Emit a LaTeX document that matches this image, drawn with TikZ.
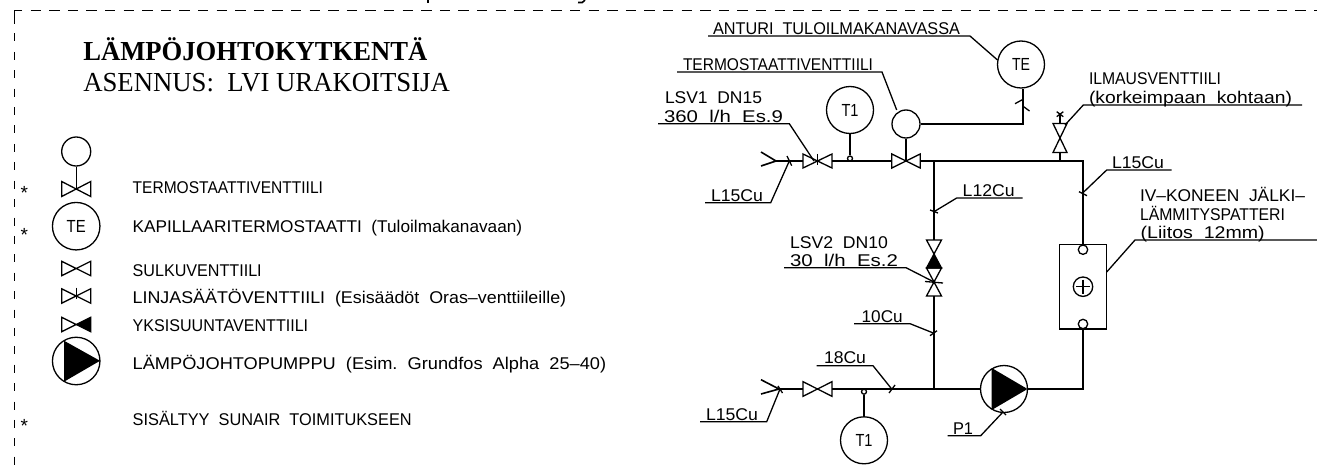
\documentclass[tikz,border=0pt]{standalone}
\usepackage{graphicx}
\usepackage{fontspec}
\setmainfont{Liberation Sans}
\newfontfamily\headfont{Liberation Serif}
\usetikzlibrary{shapes.geometric}
\newsavebox\cadbox
\newcommand\cadt[2]{\sbox\cadbox{#2}\pgfmathsetmacro\cadr{#1/\the\wd\cadbox}\scalebox{\cadr}[1]{\usebox\cadbox}}
\tikzset{
  lab/.style={anchor=base west,inner sep=0pt,outer sep=0pt,font=\fontsize{17}{17}\selectfont},
  lab2/.style={anchor=base west,inner sep=0pt,outer sep=0pt,font=\fontsize{17}{17}\selectfont},
  star/.style={anchor=base,inner sep=0pt,outer sep=0pt,font=\fontsize{19}{19}\selectfont},
  head/.style={anchor=base west,inner sep=0pt,outer sep=0pt,font=\fontsize{27.5}{27.5}\selectfont\headfont},
  pipe/.style={line width=1.6pt,line join=miter},
  thin line/.style={line width=1.3pt},
  lead/.style={line width=1.3pt},
  ring/.style={draw,circle,inner sep=0pt,line width=1.3pt,font=\fontsize{17.5}{17.5}\selectfont},
  dashh/.style={line width=1.4pt,dash pattern=on 10.3pt off 8.3pt},
  dashv/.style={line width=1.4pt,dash pattern=on 8pt off 10.4pt},
  bowtie/.pic={\draw[line width=1.3pt,line join=miter] (-1,-1)--(-1,1)--(1,-1)--(1,1)--cycle;},
  vbow/.pic={\draw[line width=1.3pt,line join=miter] (-1,-1)--(1,-1)--(-1,1)--(1,1)--cycle;},
  checkv/.pic={\draw[line width=1.3pt,line join=miter] (-1,-1)--(-1,1)--(1,-1)--(1,1)--cycle;
     \fill (0,0)--(1,-1)--(1,1)--cycle;},
  vcheck/.pic={\draw[line width=1.3pt,line join=miter] (-1,-1)--(1,-1)--(-1,1)--(1,1)--cycle;
     \fill (0,0)--(-1,1)--(1,1)--cycle;},
}
\begin{document}
\begin{tikzpicture}[x=1pt,y=-1pt]
\useasboundingbox (0,0) rectangle (1317,468);
% clipped remains of the line above the frame
\fill (427,0) rectangle (429,3);
\draw[line width=1.6pt] (585,0) .. controls (584,3) and (581,3) .. (578,2.5);
% frame
\coordinate (fc) at (14.5,10.7);
\coordinate (fh) at (22,10.7);
\coordinate (fv) at (14.5,24);
\coordinate (fh2) at (30.6,10.7);
\coordinate (fv2) at (14.5,33.5);
\coordinate (fr) at (1317,10.7);
\coordinate (fb) at (14.5,468);
\draw[line width=1.4pt] (fh) -- (fc) -- (fv);
\draw[dashh] (fh2) -- (fr);
\draw[dashv] (fv2) -- (fb);
% headings
\node[head,font=\fontsize{27.5}{27.5}\selectfont\headfont\bfseries] (h1) at (83.3,61) {\cadt{344}{LÄMPÖJOHTOKYTKENTÄ}};
\node[head] (h2) at (83.3,91.7) {\cadt{366.7}{ASENNUS:\ \ LVI URAKOITSIJA}};
% legend stars
\node[star] (s1) at (24.3,199) {*};
\node[star] (s2) at (24.3,241) {*};
\node[star] (s3) at (24.3,432) {*};
% legend symbols
\node[ring,minimum size=29pt] (lc) at (76.2,151.5) {};
\pic (lv1) at (76.2,189) [xscale=14.5,yscale=7.5] {bowtie};
\coordinate (lv1c) at (76.2,189);
\draw[thin line] (lc) -- (lv1c);
\node[ring,minimum size=47.5pt] (lte) at (76.2,226.2) {\cadt{19}{TE}};
\pic (lv2) at (76.2,268.5) [xscale=14.5,yscale=7.2] {bowtie};
\pic (lv3) at (76.2,296) [xscale=14.5,yscale=7.2] {bowtie};
\coordinate (lv3a) at (76.2,287.5);
\coordinate (lv3b) at (76.2,299);
\draw[thin line] (lv3a) -- (lv3b);
\pic (lv4) at (76.2,324.5) [xscale=14.5,yscale=7.2] {checkv};
\node[ring,minimum size=47.5pt] (lp) at (76.2,361) {};
\fill (64,340.7) -- (100,360.8) -- (64,381.7) -- cycle;
% legend texts
\node[lab] (t1) at (132.7,193) {\cadt{190.3}{TERMOSTAATTIVENTTIILI}};
\node[lab] (t2) at (132.7,232) {\cadt{389.5}{KAPILLAARITERMOSTAATTI\ \ (Tuloilmakanavaan)}};
\node[lab] (t3) at (132.7,276) {\cadt{129}{SULKUVENTTIILI}};
\node[lab] (t4) at (132.7,303) {\cadt{433.5}{LINJASÄÄTÖVENTTIILI\ \ (Esisäädöt\ \ Oras–venttiileille)}};
\node[lab] (t5) at (132.7,331) {\cadt{175.5}{YKSISUUNTAVENTTIILI}};
\node[lab] (t6) at (132.7,369) {\cadt{473.5}{LÄMPÖJOHTOPUMPPU\ \ (Esim.\ \ Grundfos\ \ Alpha\ \ 25–40)}};
\node[lab] (t7) at (132.7,425) {\cadt{279}{SISÄLTYY\ \ SUNAIR\ \ TOIMITUKSEEN}};
% --- schematic: instruments
\node[ring,minimum size=47pt] (te) at (1021,64.5) {\cadt{18}{TE}};
\node[ring,minimum size=47pt] (t1a) at (850,110) {\cadt{17}{T1}};
\node[ring,minimum size=47pt] (t1b) at (864,440.3) {\cadt{17}{T1}};
\node[ring,minimum size=28pt] (tv) at (906,124) {};
\node[ring,minimum size=47pt] (p1) at (1004,389) {};
\fill (991.7,368) -- (1027.5,389) -- (991.7,410) -- cycle;
\node[ring,minimum size=5pt] (da) at (850,158.5) {};
\node[ring,minimum size=5pt] (db) at (864,391.7) {};
% heater
\node[draw,line width=1.3pt,minimum width=47.4pt,minimum height=84.3pt,inner sep=0pt] (hb) at (1083,286.85) {};
\node[ring,minimum size=9.4pt] (hu) at (1083,249.7) {};
\node[ring,minimum size=9.4pt] (hl) at (1083,324) {};
\node[ring,minimum size=19.4pt] (hp) at (1083,286.7) {};
\draw[thin line] (1076,286.7) -- (1090,286.7) (1083,279.7) -- (1083,293.7);
% valves
\pic (v1) at (817.5,161) [xscale=14.5,yscale=7] {bowtie};
\pic (v2) at (906,161) [xscale=14.2,yscale=7] {bowtie};
\pic (v3) at (817.5,389) [xscale=14.5,yscale=7.3] {bowtie};
\pic (v4) at (1060,138) [xscale=7,yscale=14.5] {vbow};
\pic (v5) at (934,254) [xscale=7.5,yscale=14] {vcheck};
\pic (v6) at (934,282) [xscale=7.5,yscale=14] {vbow};
\coordinate (v1t) at (817.5,154); \coordinate (v1b) at (817.5,165);
\draw[thin line] (v1t) -- (v1b);
\draw[thin line] (925,281.5) -- (943,283);
% pipe coordinates
\coordinate (i1) at (776,161); \coordinate (i1a) at (761,152); \coordinate (i1b) at (761,166);
\coordinate (v1l) at (803,161); \coordinate (v1r) at (832,161);
\coordinate (v2l) at (892,161); \coordinate (v2r) at (920,161);
\coordinate (v2c) at (906,161);
\coordinate (jt) at (934,161); \coordinate (c1) at (1083,161);
\coordinate (av) at (1060,161); \coordinate (avb) at (1060,152.5);
\coordinate (avt) at (1060,123.5); \coordinate (avx) at (1060,114);
\coordinate (sb) at (1022.7,124);
\coordinate (v5t) at (934,240); \coordinate (v6b) at (934,296);
\coordinate (jb) at (934,389);
\coordinate (i2) at (779,389); \coordinate (i2a) at (761,379.7); \coordinate (i2b) at (761,394);
\coordinate (v3l) at (803,389); \coordinate (v3r) at (832,389);
\coordinate (c2) at (1083,389);
% pipes
\draw[pipe] (i1a) -- (i1) -- (i1b);
\draw[pipe] (i2a) -- (i2) -- (i2b);
\draw[pipe] (i1) -- (v1l);
\draw[pipe] (v1r) -- (v2l);
\draw[pipe] (v2r) -- (c1) -- (hb.north -| c1);
\draw[pipe] (jt) -- (v5t);
\draw[pipe] (v6b) -- (jb);
\draw[pipe] (i2) -- (v3l);
\draw[pipe] (v3r) -- (p1.west);
\draw[pipe] (p1.east) -- (c2) -- (hb.south -| c2);
\draw[pipe] (av) -- (avb);
\draw[thin line] (avt) -- (avx);
\draw[thin line] (1056.7,111.7) -- (1063.3,116.7) (1063.3,111.7) -- (1056.7,116.7);
\draw[pipe] (t1a.south) -- (da.north);
\draw[pipe] (db.south) -- (t1b.north);
\draw[pipe] (tv.south) -- (v2c);
\draw[pipe] (tv.east) -- (sb) -- (te.south -| sb);
\draw[thin line] (1015,103.7) -- (1022.7,99.5) (1022.7,106) -- (1029.5,111);
% leaders and their labels
\draw[lead] (708,36) -- (970,36) -- (997.5,60);
\node[lab2] (n1) at (713,34.5) {\cadt{247}{ANTURI\ \ TULOILMAKANAVASSA}};
\draw[lead] (677,72) -- (882,72) -- (896.7,110);
\node[lab2] (n2) at (683,70.3) {\cadt{190}{TERMOSTAATTIVENTTIILI}};
\draw[lead] (658,123.7) -- (789.3,123.7) -- (814,161);
\node[lab2] (n3) at (665,103.3) {\cadt{97}{LSV1\ \ DN15}};
\node[lab2] (n4) at (664,122.3) {\cadt{119}{360\ \ l/h\ \ Es.9}};
\draw[lead] (705,202.7) -- (770.7,202.7) -- (789.3,161);
\draw[lead] (787,156) -- (791.7,165.7);
\node[lab2] (n5) at (711,201) {\cadt{52}{L15Cu}};
\draw[lead] (1022.7,198) -- (956.7,198) -- (934,211.7);
\draw[lead] (930,210) -- (938,213);
\node[lab2] (n6) at (962.7,196.7) {\cadt{52}{L12Cu}};
\draw[lead] (1171.7,170) -- (1106.7,170) -- (1083,192.7);
\draw[lead] (1079,191.7) -- (1087,195.7);
\node[lab2] (n7) at (1112,168) {\cadt{52}{L15Cu}};
\draw[lead] (1302,105) -- (1083.3,105) -- (1065,125);
\node[lab2] (n8) at (1089,85) {\cadt{132}{ILMAUSVENTTIILI}};
\node[lab2] (n9) at (1089,103.5) {\cadt{203}{(korkeimpaan\ \ kohtaan)}};
\node[lab2] (n10) at (1140,201) {\cadt{165}{IV–KONEEN\ \ JÄLKI–}};
\node[lab2] (n11) at (1140,220) {\cadt{145}{LÄMMITYSPATTERI}};
\node[lab2] (n12) at (1140.7,238.5) {\cadt{124}{(Liitos\ \ 12mm)}};
\draw[lead] (1317,240) -- (1135,240) -- (1106.7,272);
\draw[lead] (784,267.7) -- (906,267.7) -- (934,282);
\node[lab2] (n13) at (790,248) {\cadt{98}{LSV2\ \ DN10}};
\node[lab2] (n14) at (790,266) {\cadt{108}{30\ \ l/h\ \ Es.2}};
\draw[lead] (854,323.7) -- (910,323.7) -- (934,333.3);
\draw[lead] (930,335.7) -- (937,330.7);
\node[lab2] (n15) at (861.7,322) {\cadt{41}{10Cu}};
\draw[lead] (816.7,365.7) -- (873,365.7) -- (891.7,389);
\draw[lead] (889,393) -- (895,385);
\node[lab2] (n16) at (824,363) {\cadt{42}{18Cu}};
\draw[lead] (700,421.7) -- (766.7,421.7) -- (780,389);
\draw[lead] (778,386) -- (782.5,393);
\node[lab2] (n17) at (706,420) {\cadt{52}{L15Cu}};
\draw[lead] (947.7,435.7) -- (980.7,435.7) -- (1003,412);
\draw[lead] (1000,409) -- (1006,415);
\node[lab2] (n18) at (953,434) {\cadt{20}{P1}};
\end{tikzpicture}
\end{document}
